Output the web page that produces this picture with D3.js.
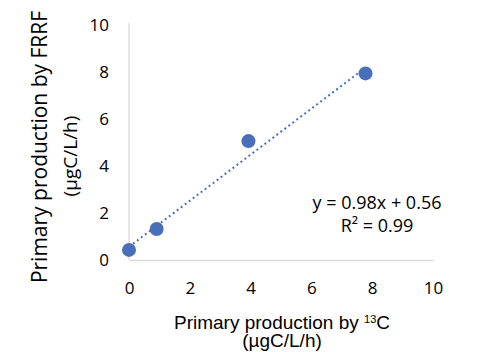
<!DOCTYPE html>
<html>
<head>
<meta charset="utf-8">
<script src="https://cdn.jsdelivr.net/npm/d3@7"></script>
<style>
  body { margin: 0; background: #fff; }
  text { font-family: "Open Sans", "Noto Sans", sans-serif; fill: #000; }
</style>
</head>
<body>
<div id="chart"></div>
<script>
// data
var x13C = [0, 0.91, 3.93, 7.78];
var yFRRF = [0.43, 1.32, 5.06, 7.94];
var fitSlope = 0.98, fitIntercept = 0.56;
var xTicks = [0, 2, 4, 6, 8, 10];
var yTicks = [0, 2, 4, 6, 8, 10];
var fitLabels = ["y = 0.98x + 0.56", "R\u00b2 = 0.99"];

var W = 481, H = 352;

var svg = d3.select('#chart').append('svg')
  .attr('width', W)
  .attr('height', H);

var xScale = d3.scaleLinear().domain([0, 10]).range([129, 433]);
var yScale = d3.scaleLinear().domain([0, 10]).range([260, 25]);

// axes (no tick marks, light grey lines)
var xAxis = svg.append('g')
  .attr('transform', 'translate(0,' + yScale(0) + ')')
  .call(d3.axisBottom(xScale).tickValues(xTicks).tickSize(0).tickPadding(22).tickFormat(d3.format('d')));
var yAxis = svg.append('g')
  .attr('transform', 'translate(' + xScale(0) + ',0)')
  .call(d3.axisLeft(yScale).tickValues(yTicks).tickSize(0).tickPadding(20).tickFormat(d3.format('d')));

[xAxis, yAxis].forEach(function(a) {
  a.select('.domain').attr('stroke', '#d9d9d9').attr('stroke-width', 1.3);
  a.selectAll('text').style('font-size', '17px').style('font-family', '"Open Sans", sans-serif').attr('fill', '#000');
});
yAxis.select('.domain').attr('d', 'M0,' + yScale(10.1) + 'V' + yScale(0));

// trendline
var x0 = d3.min(x13C), x1 = d3.max(x13C);
svg.append('line')
  .attr('x1', xScale(x0)).attr('y1', yScale(fitSlope * x0 + fitIntercept))
  .attr('x2', xScale(x1)).attr('y2', yScale(fitSlope * x1 + fitIntercept))
  .attr('stroke', '#4472c4')
  .attr('stroke-width', 2)
  .attr('stroke-dasharray', '2,3');

// points
svg.selectAll('.dot')
  .data(x13C)
  .enter().append('circle')
  .attr('class', 'dot')
  .attr('r', 7)
  .attr('cx', function(d) { return xScale(d); })
  .attr('cy', function(d, i) { return yScale(yFRRF[i]); })
  .attr('fill', '#4a6fba');

// equation
svg.selectAll('.fit')
  .data(fitLabels)
  .enter().append('text')
  .attr('class', 'fit')
  .attr('x', 377)
  .attr('y', function(d, i) { return 209 + i * 23; })
  .attr('text-anchor', 'middle')
  .style('font-size', '18px')
  .text(function(d) { return d; });

// axis titles
var xt = svg.append('text')
  .attr('x', 282).attr('y', 329)
  .attr('text-anchor', 'middle')
  .style('font-family', '"Liberation Sans", Arial, sans-serif')
  .style('font-size', '19px');
xt.append('tspan').text('Primary production by ');
xt.append('tspan').attr('dy', -6).style('font-size', '11px').text('13');
xt.append('tspan').attr('dy', 6).text('C');
svg.append('text')
  .attr('x', 282).attr('y', 347)
  .attr('text-anchor', 'middle')
  .style('font-family', '"Liberation Sans", Arial, sans-serif')
  .style('font-size', '19px')
  .text('(\u00b5gC/L/h)');

var yt = svg.append('g').attr('transform', 'translate(0,147) rotate(-90)');
yt.append('text')
  .attr('x', 0).attr('y', 47)
  .attr('text-anchor', 'middle')
  .style('font-size', '21px')
  .text('Primary production by FRRF');
yt.append('text')
  .attr('x', -9).attr('y', 77)
  .attr('text-anchor', 'middle')
  .style('font-size', '19px')
  .text('(\u00b5gC/L/h)');
</script>
</body>
</html>
